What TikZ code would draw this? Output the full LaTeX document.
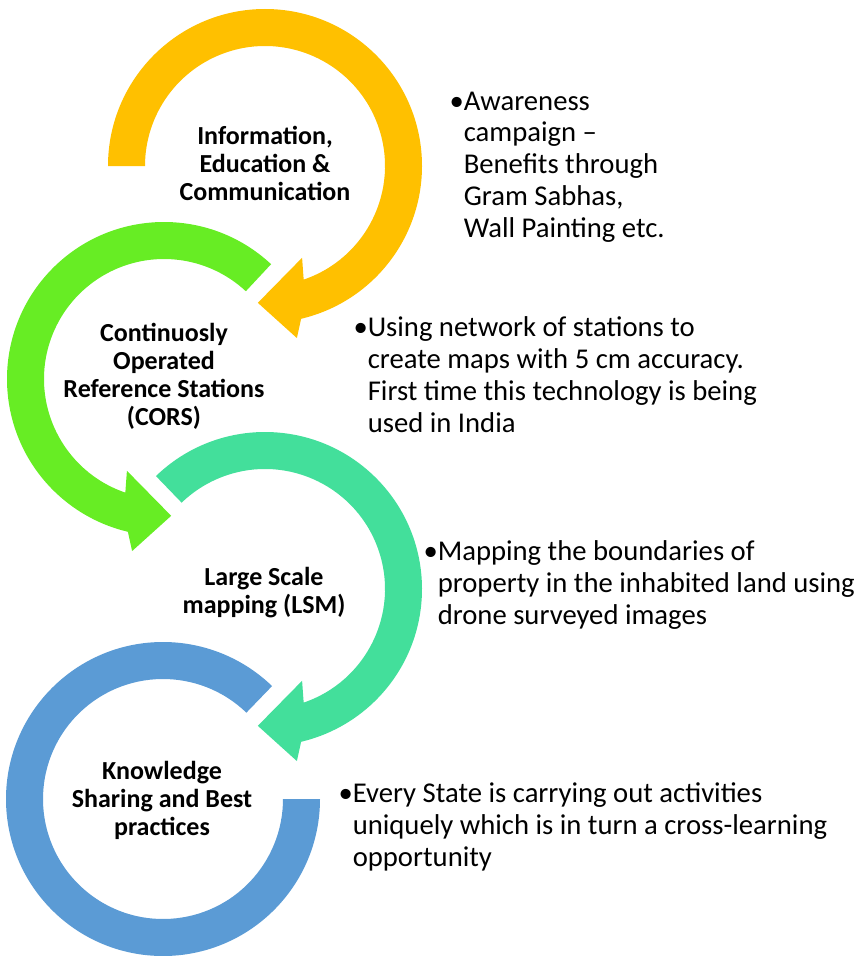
\documentclass[tikz,border=0pt]{standalone}
\usepackage{fontspec}
\setmainfont{Carlito}
\definecolor{iecYellow}{RGB}{255,192,0}
\definecolor{corsGreen}{RGB}{103,237,36}
\definecolor{lsmTeal}{RGB}{67,223,155}
\definecolor{ksBlue}{RGB}{91,155,213}
\tikzset{every picture/.style={line width=0.75pt}}

\begin{document}
\begin{tikzpicture}[x=0.75pt,y=0.75pt,yscale=-1,xscale=1,
  lbl/.style={anchor=base,align=center,inner sep=0pt,font=\fontsize{19.5}{21}\selectfont\bfseries},
  note/.style={anchor=base west,align=left,inner sep=0pt,font=\fontsize{21.5}{23.8}\selectfont}]
\useasboundingbox (0,0) rectangle (863,956);

%Shape: Circular Arrow [id:iec]
\fill [iecYellow, shift={(265,166)}] (-180:157) arc [start angle=-180, end angle=76.7, radius=157] -- (79.5:175) -- (93:137) -- (68:99) -- (71.2:120) arc [start angle=71.2, end angle=-180, radius=120] -- cycle ;
%Shape: Circular Arrow [id:cors]
\fill [corsGreen, shift={(164,379)}] (-47:157) arc [start angle=-47, end angle=-256.7, radius=157] -- (-259.5:175) -- (-273:137) -- (-248:99) -- (-251.2:120) arc [start angle=-251.2, end angle=-47, radius=120] -- cycle ;
%Shape: Circular Arrow [id:lsm]
\fill [lsmTeal, shift={(265,589)}] (-134:157) arc [start angle=-134, end angle=76.7, radius=157] -- (79.5:175) -- (93:137) -- (68:99) -- (71.2:120) arc [start angle=71.2, end angle=-134, radius=120] -- cycle ;
%Shape: Arc [id:ks]
\fill [ksBlue, shift={(163,799)}] (0:157) arc [start angle=0, end angle=314, radius=157] -- (314:120) arc [start angle=314, end angle=0, radius=120] -- cycle ;

% Text Node
\node [lbl] (iec) at (265,200) {Information,\\Education \&\\Communication};
% Text Node
\node [lbl] (cors) at (164,425) {Continuosly\\Operated\\Reference Stations\\(CORS)};
% Text Node
\node [lbl] (lsm) at (264,613) {Large Scale\\mapping (LSM)};
% Text Node
\node [lbl] (ks) at (162,835) {Knowledge\\Sharing and Best\\practices};

% Text Node
\node [note] (iecnote) at (449,237) {•Awareness\\\hphantom{•}campaign –\\\hphantom{•}Benefits through\\\hphantom{•}Gram Sabhas,\\\hphantom{•}Wall Painting etc.};
% Text Node
\node [note] (corsnote) at (353,432) {•Using network of stations to\\\hphantom{•}create maps with 5 cm accuracy.\\\hphantom{•}First time this technology is being\\\hphantom{•}used in India};
% Text Node
\node [note] (lsmnote) at (423,624) {•Mapping the boundaries of\\\hphantom{•}property in the inhabited land using\\\hphantom{•}drone surveyed images};
% Text Node
\node [note] (ksnote) at (338,866) {•Every State is carrying out activities\\\hphantom{•}uniquely which is in turn a cross-learning\\\hphantom{•}opportunity};

\end{tikzpicture}
\end{document}
